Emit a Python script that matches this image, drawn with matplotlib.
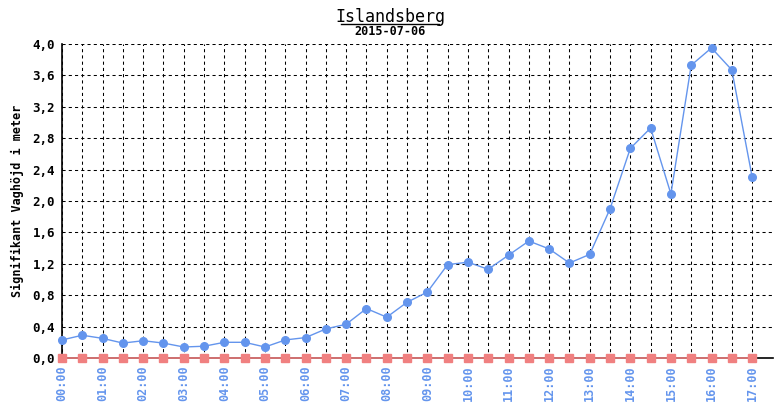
import matplotlib
matplotlib.use("Agg")
import matplotlib.pyplot as plt

# half-hourly observations, 00:00 .. 17:00
times = ["%02d:%02d" % (h, m) for h in range(18) for m in (0, 30)][:35]
wave_height = [0.23, 0.29, 0.25, 0.19, 0.22, 0.19, 0.14, 0.15, 0.20, 0.20,
               0.14, 0.23, 0.26, 0.37, 0.43, 0.63, 0.52, 0.71, 0.84, 1.19,
               1.22, 1.13, 1.31, 1.49, 1.39, 1.21, 1.32, 1.90, 2.67, 2.93,
               2.09, 3.73, 3.95, 3.67, 2.31]
second_series = [0.0] * 35
y_ticks = [0.0, 0.4, 0.8, 1.2, 1.6, 2.0, 2.4, 2.8, 3.2, 3.6, 4.0]

mono = "DejaVu Sans Mono"
blue = "#6495ED"
red = "#F08080"

fig = plt.figure(figsize=(7.8, 4.08), dpi=100)
ax = fig.add_axes([62 / 780, 50 / 408, 711 / 780, 314 / 408])

x = list(range(len(times)))
ax.plot(x, second_series, color=red, lw=1.2, marker="s", markersize=6,
        clip_on=False, zorder=3)
ax.plot(x, wave_height, color=blue, lw=1, marker="o", markersize=5.5,
        clip_on=False, zorder=4)

ax.set_xlim(0, 35.03)
ax.set_ylim(0, 4.0)

# grid: every half hour vertically, every 0.4 horizontally
for xi in x:
    ax.axvline(xi, color="black", lw=0.75, ls=(0, (3, 3)), zorder=1)
for yv in y_ticks[1:]:
    ax.axhline(yv, color="black", lw=0.75, ls=(0, (3, 3)), zorder=1)

for s in ("top", "right"):
    ax.spines[s].set_visible(False)
ax.spines["left"].set_linewidth(1.2)
ax.spines["bottom"].set_linewidth(1.2)

ax.set_yticks(y_ticks)
ax.set_yticklabels([("%.1f" % v).replace(".", ",") for v in y_ticks],
                   fontfamily=mono, fontweight="bold", fontsize=9)
ax.set_xticks(x[::2])
ax.set_xticklabels(times[::2], rotation=90, color=blue, fontfamily=mono,
                   fontweight="bold", fontsize=8.5)
ax.tick_params(length=0, pad=5)

ax.set_ylabel("Signifikant Vaghöjd i meter", fontfamily=mono,
              fontweight="bold", fontsize=8.5, labelpad=6)

fig.text(0.5, 0.958, "Islandsberg", ha="center", va="center",
         fontfamily=mono, fontsize=12)
fig.add_artist(plt.Line2D([341 / 780, 439 / 780], [1 - 24 / 408, 1 - 24 / 408],
                          color="black", lw=1))
fig.text(0.5, 0.922, "2015-07-06", ha="center", va="center",
         fontfamily=mono, fontsize=8.5, fontweight="bold")

fig.savefig("out.png", dpi=100, facecolor="white")
